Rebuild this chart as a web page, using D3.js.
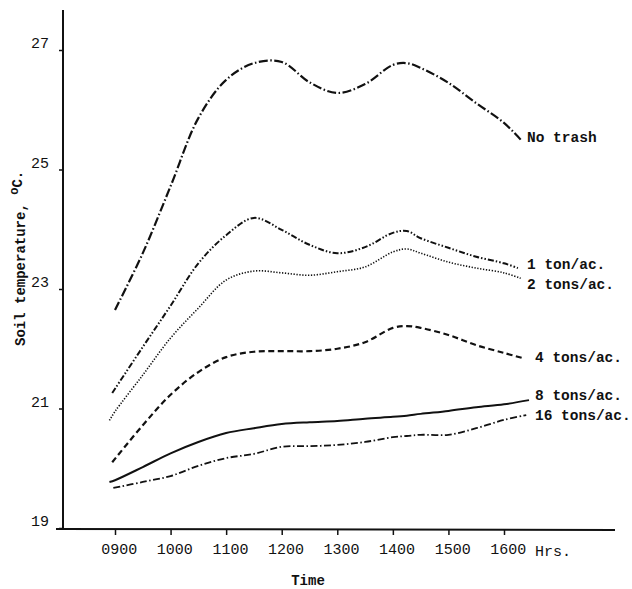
<!DOCTYPE html>
<html>
<head>
<meta charset="utf-8">
<script src="https://cdn.jsdelivr.net/npm/d3@7"></script>
<style>
  body { margin: 0; background: #fff; }
  text { font-family: "Liberation Mono", "DejaVu Sans Mono", monospace; fill: #111; }
</style>
</head>
<body>
<svg id="chart" width="632" height="589"></svg>
<script>
// hours as decimal (9 = 0900), soil temperature in deg C
const hours = [9, 9.5, 10, 10.5, 11, 11.5, 12, 12.5, 13, 13.5, 14, 14.25, 14.5, 15, 15.5, 16];
const noTrash  = [22.65, 23.6, 24.72, 25.86, 26.5, 26.78, 26.8, 26.46, 26.28, 26.43, 26.75, 26.78, 26.7, 26.45, 26.11, 25.78];
const oneTon   = [21.25, 22.03, 22.72, 23.43, 23.9, 24.19, 23.99, 23.74, 23.6, 23.7, 23.94, 23.97, 23.85, 23.69, 23.54, 23.43];
const twoTons  = [20.95, 21.56, 22.18, 22.68, 23.15, 23.3, 23.27, 23.23, 23.29, 23.37, 23.62, 23.67, 23.6, 23.45, 23.35, 23.27];
const fourTons = [20.1, 20.72, 21.23, 21.61, 21.86, 21.95, 21.96, 21.96, 22.0, 22.11, 22.35, 22.38, 22.35, 22.23, 22.06, 21.93];
const eightTons   = [19.8, 20.02, 20.25, 20.44, 20.59, 20.67, 20.74, 20.77, 20.79, 20.83, 20.86, 20.88, 20.91, 20.96, 21.02, 21.07];
const sixteenTons = [19.67, 19.77, 19.87, 20.04, 20.17, 20.24, 20.36, 20.37, 20.39, 20.44, 20.52, 20.54, 20.56, 20.56, 20.67, 20.81];

// where each curve starts and stops, [hour, value]
const startPts = [[9.0, 22.65], [8.95, 21.26], [8.9, 20.8], [8.95, 20.1], [8.9, 19.77], [8.97, 19.67]];
const endPts   = [[16.3, 25.5], [16.25, 23.35], [16.3, 23.18], [16.35, 21.84], [16.45, 21.14], [16.4, 20.89]];

const seriesNames = ["No trash", "1 ton/ac.", "2 tons/ac.", "4 tons/ac.", "8 tons/ac.", "16 tons/ac."];
const seriesValues = [noTrash, oneTon, twoTons, fourTons, eightTons, sixteenTons];

const xTicks = [9, 10, 11, 12, 13, 14, 15, 16];
const xTickLabels = ["0900", "1000", "1100", "1200", "1300", "1400", "1500", "1600"];
const yTicks = [19, 21, 23, 25, 27];

// styles per series
const dashes = ["9,2.5,1.5,2.5", "6,2,1.5,2,1.5,2", "1.3,1.6", "6,3.5", null, "7,2.5,1.5,2.5"];
const widths = [2.2, 2.0, 1.6, 2.2, 2.0, 1.8];
const labelPos = [[527, -3], [527, -4], [527, 6], [535, -1], [535, -5], [535, 0]];

const svg = d3.select("#chart");

const x = d3.scaleLinear().domain([9, 16]).range([115, 504]);
const y = d3.scaleLinear().domain([19, 27]).range([528, 50]);

// axis frame
const g = svg.append("g").attr("id", "g-area");

g.append("line")
  .attr("x1", 63).attr("x2", 63)
  .attr("y1", 10).attr("y2", 530)
  .style("stroke", "#111").style("stroke-width", 2);

g.append("line")
  .attr("x1", 56).attr("x2", 615)
  .attr("y1", 529).attr("y2", 530)
  .style("stroke", "#111").style("stroke-width", 2);

// y ticks
const yAxis = g.append("g")
  .attr("transform", "translate(63,0)")
  .call(d3.axisLeft(y).tickValues(yTicks).tickSize(4).tickPadding(10).tickFormat(d3.format("d")));
yAxis.select(".domain").remove();
yAxis.selectAll("line").style("stroke", "#111").style("stroke-width", 1.5);
yAxis.selectAll("text")
  .attr("dy", "-0.15em")
  .style("font-size", "15px");

// x ticks
const xAxis = g.append("g")
  .attr("transform", "translate(0,529)")
  .call(d3.axisBottom(x).tickValues(xTicks).tickSize(6).tickPadding(8)
    .tickFormat((d, i) => xTickLabels[i]));
xAxis.select(".domain").remove();
xAxis.selectAll("line").style("stroke", "#111").style("stroke-width", 1.5);
xAxis.selectAll("text")
  .attr("dx", "0.25em")
  .style("font-size", "15px");

g.append("text")
  .attr("x", 535).attr("y", 556)
  .style("font-size", "15px")
  .text("Hrs.");

g.append("text")
  .attr("x", 308).attr("y", 585)
  .attr("text-anchor", "middle")
  .style("font-size", "14px")
  .style("font-weight", "bold")
  .text("Time");

// y title, rotated
const yTitle = g.append("text")
  .attr("transform", "translate(25,346) rotate(-90)")
  .style("font-size", "14px")
  .style("font-weight", "bold");
yTitle.append("tspan").text("Soil temperature, ");
yTitle.append("tspan").attr("dy", "-0.6em").style("font-size", "12px").text("o");
yTitle.append("tspan").attr("dy", "0.3em").text("C.");

// curves
const line = d3.line()
  .x(d => x(d[0]))
  .y(d => y(d[1]))
  .curve(d3.curveCatmullRom.alpha(0.5));

seriesValues.forEach((vals, i) => {
  const pts = [startPts[i]]
    .concat(hours.map((h, j) => [h, vals[j]]).filter(p => p[0] > startPts[i][0] + 0.05))
    .concat([endPts[i]]);

  g.append("path")
    .datum(pts)
    .attr("d", line)
    .style("fill", "none")
    .style("stroke", "#111")
    .style("stroke-width", widths[i])
    .style("stroke-linecap", "butt")
    .style("stroke-dasharray", dashes[i]);

  const end = endPts[i];
  g.append("text")
    .attr("x", labelPos[i][0])
    .attr("y", y(end[1]) + labelPos[i][1])
    .attr("dy", "0.35em")
    .style("font-size", "14.5px")
    .style("font-weight", "bold")
    .text(seriesNames[i]);
});
</script>
</body>
</html>
